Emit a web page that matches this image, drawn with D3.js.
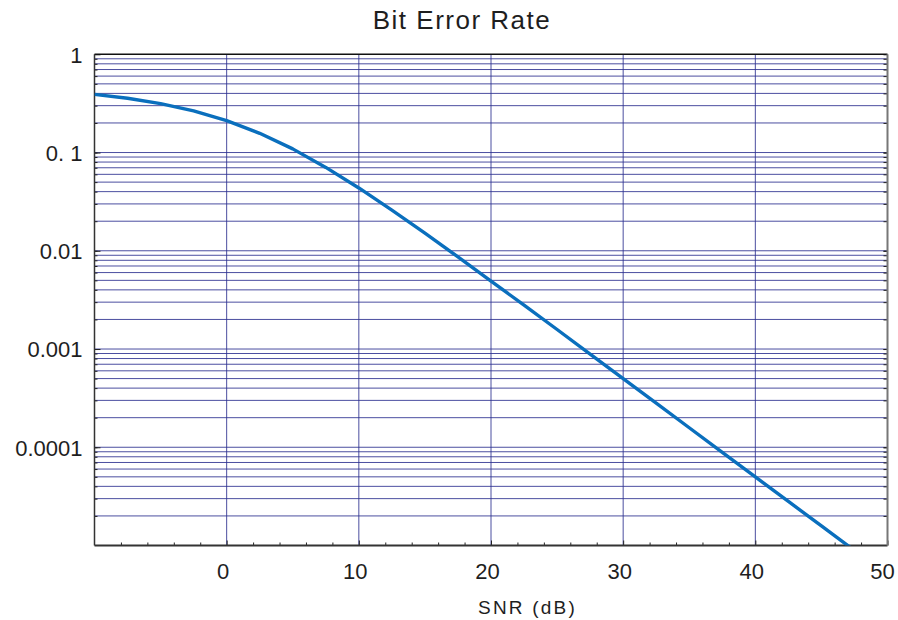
<!DOCTYPE html>
<html>
<head>
<meta charset="utf-8">
<script src="https://cdn.jsdelivr.net/npm/d3@7"></script>
<style>
	body { margin: 0; background: #fff; }
	text { font-family: "Liberation Sans", Arial, sans-serif; fill: #1e1e1e; }
	.grid line { stroke: #2b2f8f; stroke-width: 1; stroke-opacity: 0.85; }
</style>
</head>
<body>
<div id="chart-area"></div>
<script>

// SNR in dB
let snrDb = [-10, -7.5, -5, -2.5, 0, 2.5, 5, 7.5, 10, 12.5, 15, 17.5, 20,
	22.5, 25, 27.5, 30, 32.5, 35, 37.5, 40, 42.5, 45, 47.5];
let ber = [0.391, 0.357, 0.315, 0.266, 0.211, 0.157, 0.109, 0.0706, 0.0436,
	0.0259, 0.0151, 0.00866, 0.00492, 0.00279, 0.00158, 0.000886, 0.000499,
	0.000281, 0.000158, 0.0000889, 0.0000500, 0.0000281, 0.0000158, 0.0000089];

// tick values and labels
let xTickValues = [0, 10, 20, 30, 40, 50];
let yTickValues = [1, 0.1, 0.01, 0.001, 0.0001];
let yTickLabels = ["1", "0. 1", "0.01", "0.001", "0.0001"];

class BerChart {

	constructor(parentElement) {
		this.parentElement = parentElement;
		this.data = snrDb.map((d, i) => ({snr: d, ber: ber[i]}));
	}

	initVis() {
		let vis = this;

		vis.margin = {top: 54.3, right: 10.5, bottom: 74.5, left: 94.5};
		vis.width = 898 - vis.margin.left - vis.margin.right;
		vis.height = 620 - vis.margin.top - vis.margin.bottom;

		vis.svg = d3.select("#" + vis.parentElement).append("svg")
			.attr("width", 898)
			.attr("height", 620)
			.append("g")
			.attr("transform", "translate(" + vis.margin.left + "," + vis.margin.top + ")");

		vis.svg.append("defs").append("clipPath")
			.attr("id", "clip")
			.append("rect")
			.attr("width", vis.width)
			.attr("height", vis.height);

		// Scales
		vis.x = d3.scaleLinear()
			.domain([-10, 50])
			.range([0, vis.width]);

		vis.y = d3.scaleLog()
			.domain([1e-5, 1])
			.range([vis.height, 0]);

		// minor values for the grid / ticks
		let yMinor = [];
		for (let e = -5; e < 0; e++) {
			for (let m = 1; m < 10; m++) yMinor.push(m * Math.pow(10, e));
		}
		vis.yMinor = yMinor.filter(d => d > 1e-5 && d < 1);
		vis.xMinor = d3.range(-8, 50, 2).filter(d => d % 10 != 0);

		// Horizontal grid
		vis.svg.append("g")
			.attr("class", "grid")
			.selectAll("line")
			.data(vis.yMinor)
			.enter().append("line")
			.attr("x1", 0)
			.attr("x2", vis.width)
			.attr("y1", d => vis.y(d))
			.attr("y2", d => vis.y(d));

		// Vertical grid
		vis.svg.append("g")
			.attr("class", "grid")
			.selectAll("line")
			.data(xTickValues.filter(d => d < 50))
			.enter().append("line")
			.attr("x1", d => vis.x(d))
			.attr("x2", d => vis.x(d))
			.attr("y1", 0)
			.attr("y2", vis.height);

		// Axes (ticks point inward)
		vis.xAxis = d3.axisBottom(vis.x)
			.tickValues(xTickValues)
			.tickSizeInner(-5)
			.tickSizeOuter(0)
			.tickPadding(18);

		vis.xAxisMinor = d3.axisBottom(vis.x)
			.tickValues(vis.xMinor)
			.tickSize(-3)
			.tickFormat("");

		vis.yAxis = d3.axisLeft(vis.y)
			.tickValues(yTickValues)
			.tickSizeInner(-6)
			.tickSizeOuter(0)
			.tickPadding(12)
			.tickFormat((d, i) => yTickLabels[i]);

		vis.yAxisMinor = d3.axisLeft(vis.y)
			.tickValues(vis.yMinor)
			.tickSize(-3)
			.tickFormat("");

		vis.yAxisRight = d3.axisRight(vis.y)
			.tickValues(vis.yMinor.concat(yTickValues))
			.tickSize(-4)
			.tickFormat("");

		let gx = vis.svg.append("g")
			.attr("class", "x-axis axis")
			.attr("transform", "translate(0," + vis.height + ")")
			.call(vis.xAxis);
		gx.selectAll("text")
			.style("font-size", "22px")
			.attr("dy", "0.71em")
			.attr("dx", d => d == 50 ? -5.5 : -4);

		vis.svg.append("g")
			.attr("transform", "translate(0," + vis.height + ")")
			.call(vis.xAxisMinor);

		let gy = vis.svg.append("g")
			.attr("class", "y-axis axis")
			.call(vis.yAxis);
		gy.selectAll("text").style("font-size", "22px").attr("dy", "0.36em");

		vis.svg.append("g").call(vis.yAxisMinor);

		vis.svg.append("g")
			.attr("transform", "translate(" + vis.width + ",0)")
			.call(vis.yAxisRight);

		vis.svg.selectAll(".domain").remove();
		vis.svg.selectAll(".tick line").attr("stroke", "#222");

		// frame
		vis.svg.append("line").attr("x1", 0).attr("x2", vis.width).attr("y1", 0).attr("y2", 0)
			.attr("stroke", "#111").attr("stroke-width", 1.5);
		vis.svg.append("line").attr("x1", 0).attr("x2", vis.width).attr("y1", vis.height).attr("y2", vis.height)
			.attr("stroke", "#333").attr("stroke-width", 2);
		vis.svg.append("line").attr("x1", 0).attr("x2", 0).attr("y1", 0).attr("y2", vis.height)
			.attr("stroke", "#333").attr("stroke-width", 1.5);
		vis.svg.append("line").attr("x1", vis.width).attr("x2", vis.width).attr("y1", 0).attr("y2", vis.height)
			.attr("stroke", "#777").attr("stroke-width", 2);

		// BER curve
		vis.line = d3.line()
			.x(d => vis.x(d.snr))
			.y(d => vis.y(d.ber));

		vis.svg.append("path")
			.datum(vis.data)
			.attr("clip-path", "url(#clip)")
			.attr("fill", "none")
			.attr("stroke", "#0a6fbd")
			.attr("stroke-width", 3.4)
			.attr("stroke-linejoin", "round")
			.attr("d", vis.line);

		// Title and axis label
		vis.svg.append("text")
			.attr("x", 462 - vis.margin.left)
			.attr("y", 29.3 - vis.margin.top)
			.attr("text-anchor", "middle")
			.style("font-size", "26px")
			.style("letter-spacing", "1.5px")
			.text("Bit Error Rate");

		vis.svg.append("text")
			.attr("x", 527.5 - vis.margin.left)
			.attr("y", 614 - vis.margin.top)
			.attr("text-anchor", "middle")
			.style("font-size", "19px")
			.style("letter-spacing", "2.2px")
			.text("SNR (dB)");
	}
}

let berChart = new BerChart("chart-area");
berChart.initVis();

</script>
</body>
</html>
